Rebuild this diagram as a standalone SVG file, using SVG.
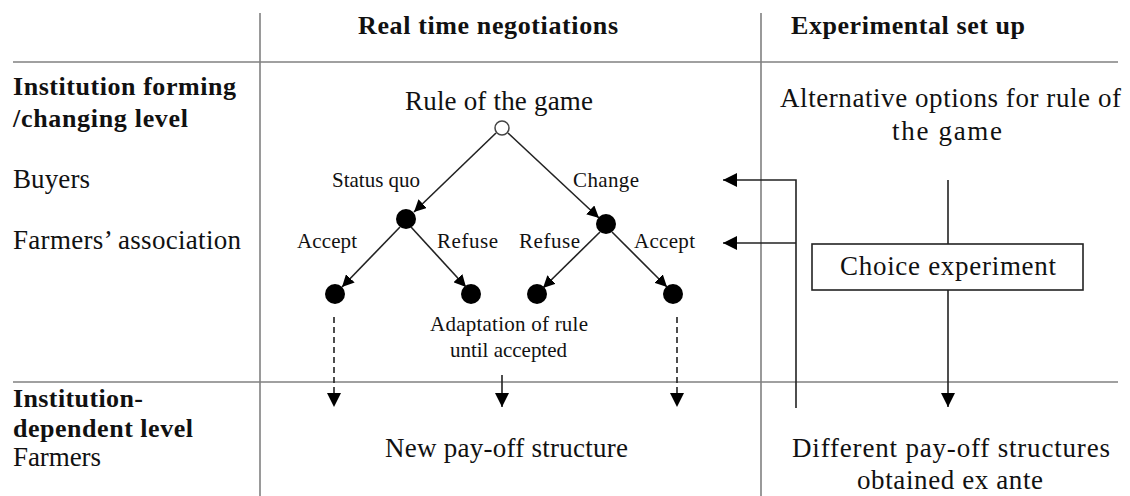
<svg xmlns="http://www.w3.org/2000/svg" width="1130" height="496" viewBox="0 0 1130 496">
  <style>
    text { font-family: "Liberation Serif", "Times New Roman", serif; fill: #111; }
    .hdr { font-size: 26px; font-weight: bold; }
    .lvl { font-size: 26px; font-weight: bold; }
    .big { font-size: 27px; }
    .sm { font-size: 21px; }
    .grid { stroke: #808080; stroke-width: 1.6; fill: none; }
    .edge { stroke: #222; stroke-width: 1.6; fill: none; }
    .dash { stroke: #222; stroke-width: 1.6; fill: none; stroke-dasharray: 6 4; }
    .dot { fill: #000; }
  </style>
  <defs>
    <marker id="arrow" viewBox="0 0 10 10" refX="10" refY="5" markerWidth="12" markerHeight="12" markerUnits="userSpaceOnUse" orient="auto">
      <path d="M0,0 L10,5 L0,10 z" fill="#000"/>
    </marker>
    <marker id="arrowBig" viewBox="0 0 10 10" refX="10" refY="5" markerWidth="14" markerHeight="14" markerUnits="userSpaceOnUse" orient="auto">
      <path d="M0,0 L10,5 L0,10 z" fill="#000"/>
    </marker>
  </defs>

  <!-- table grid -->
  <g id="grid">
    <line class="grid" x1="13" y1="62" x2="1118" y2="62"/>
    <line class="grid" x1="13" y1="382" x2="1118" y2="382"/>
    <line class="grid" x1="260" y1="13" x2="260" y2="496"/>
    <line class="grid" x1="761" y1="13" x2="761" y2="496"/>
  </g>

  <!-- column headers -->
  <g id="headers">
    <text class="hdr" x="358" y="34" textLength="260" lengthAdjust="spacing">Real time negotiations</text>
    <text class="hdr" x="791" y="34" textLength="234" lengthAdjust="spacing">Experimental set up</text>
  </g>

  <!-- row labels -->
  <g id="levels">
    <text class="lvl" x="13" y="95" textLength="223" lengthAdjust="spacing">Institution forming</text>
    <text class="lvl" x="13" y="127" textLength="175" lengthAdjust="spacing">/changing level</text>
    <text class="big" x="13" y="188" textLength="77" lengthAdjust="spacing">Buyers</text>
    <text class="big" x="13" y="249" textLength="228" lengthAdjust="spacing">Farmers’ association</text>
    <text class="lvl" x="13" y="407" textLength="130" lengthAdjust="spacing">Institution-</text>
    <text class="lvl" x="13" y="437" textLength="180" lengthAdjust="spacing">dependent level</text>
    <text class="big" x="13" y="466" textLength="88" lengthAdjust="spacing">Farmers</text>
  </g>

  <!-- game tree nodes -->
  <g id="root">
    <text class="big" x="405" y="110" textLength="188" lengthAdjust="spacing">Rule of the game</text>
    <circle cx="502" cy="128" r="7" fill="#fff" stroke="#444" stroke-width="1.5"/>
  </g>
  <g id="node-status-quo"><circle class="dot" cx="406" cy="219" r="10"/></g>
  <g id="node-change"><circle class="dot" cx="606" cy="224" r="10"/></g>
  <g id="leaf-1"><circle class="dot" cx="335" cy="294" r="10"/></g>
  <g id="leaf-2"><circle class="dot" cx="471" cy="294" r="10"/></g>
  <g id="leaf-3"><circle class="dot" cx="537" cy="294" r="10"/></g>
  <g id="leaf-4"><circle class="dot" cx="673" cy="294" r="10"/></g>

  <g id="node-adaptation">
    <text class="sm" x="430" y="331" textLength="158" lengthAdjust="spacing">Adaptation of rule</text>
    <text class="sm" x="450" y="357" textLength="117" lengthAdjust="spacing">until accepted</text>
  </g>
  <g id="node-new-payoff">
    <text class="big" x="385" y="457" textLength="243" lengthAdjust="spacing">New pay-off structure</text>
  </g>

  <!-- experimental column nodes -->
  <g id="node-alternatives">
    <text class="big" x="780" y="107" textLength="341" lengthAdjust="spacing">Alternative options for rule of</text>
    <text class="big" x="892" y="140" textLength="110" lengthAdjust="spacing">the game</text>
  </g>
  <g id="node-choice">
    <rect x="812" y="244" width="271" height="46" fill="#fff" stroke="#222" stroke-width="1.6"/>
    <text class="big" x="840" y="275" textLength="216" lengthAdjust="spacing">Choice experiment</text>
  </g>
  <g id="node-different">
    <text class="big" x="792" y="457" textLength="318" lengthAdjust="spacing">Different pay-off structures</text>
    <text class="big" x="857" y="489" textLength="186" lengthAdjust="spacing">obtained ex ante</text>
  </g>

  <!-- connectors -->
  <g id="connectors">
    <line class="edge" x1="496" y1="133" x2="414" y2="212" marker-end="url(#arrow)"/>
    <line class="edge" x1="508" y1="133" x2="599" y2="218" marker-end="url(#arrow)"/>
    <line class="edge" x1="400" y1="227" x2="342" y2="287" marker-end="url(#arrow)"/>
    <line class="edge" x1="411" y1="227" x2="466" y2="287" marker-end="url(#arrow)"/>
    <line class="edge" x1="600" y1="232" x2="543" y2="288" marker-end="url(#arrow)"/>
    <line class="edge" x1="612" y1="232" x2="667" y2="287" marker-end="url(#arrow)"/>

    <line class="dash" x1="334" y1="317" x2="334" y2="407" marker-end="url(#arrowBig)"/>
    <line class="edge" x1="502" y1="375" x2="502" y2="407" marker-end="url(#arrowBig)"/>
    <line class="dash" x1="677" y1="317" x2="677" y2="407" marker-end="url(#arrowBig)"/>

    <line class="edge" x1="948" y1="180" x2="948" y2="244"/>
    <line class="edge" x1="948" y1="290" x2="948" y2="407" marker-end="url(#arrowBig)"/>

    <polyline class="edge" points="796,408 796,180 723,180" marker-end="url(#arrowBig)"/>
    <line class="edge" x1="796" y1="243" x2="723" y2="243" marker-end="url(#arrowBig)"/>
  </g>

  <!-- branch labels -->
  <g id="branch-labels">
    <text class="sm" x="332" y="187" textLength="88" lengthAdjust="spacing">Status quo</text>
    <text class="sm" x="573" y="187" textLength="66" lengthAdjust="spacing">Change</text>
    <text class="sm" x="297" y="248" textLength="60" lengthAdjust="spacing">Accept</text>
    <text class="sm" x="437" y="248" textLength="61" lengthAdjust="spacing">Refuse</text>
    <text class="sm" x="519" y="248" textLength="61" lengthAdjust="spacing">Refuse</text>
    <text class="sm" x="634" y="248" textLength="61" lengthAdjust="spacing">Accept</text>
  </g>
</svg>
